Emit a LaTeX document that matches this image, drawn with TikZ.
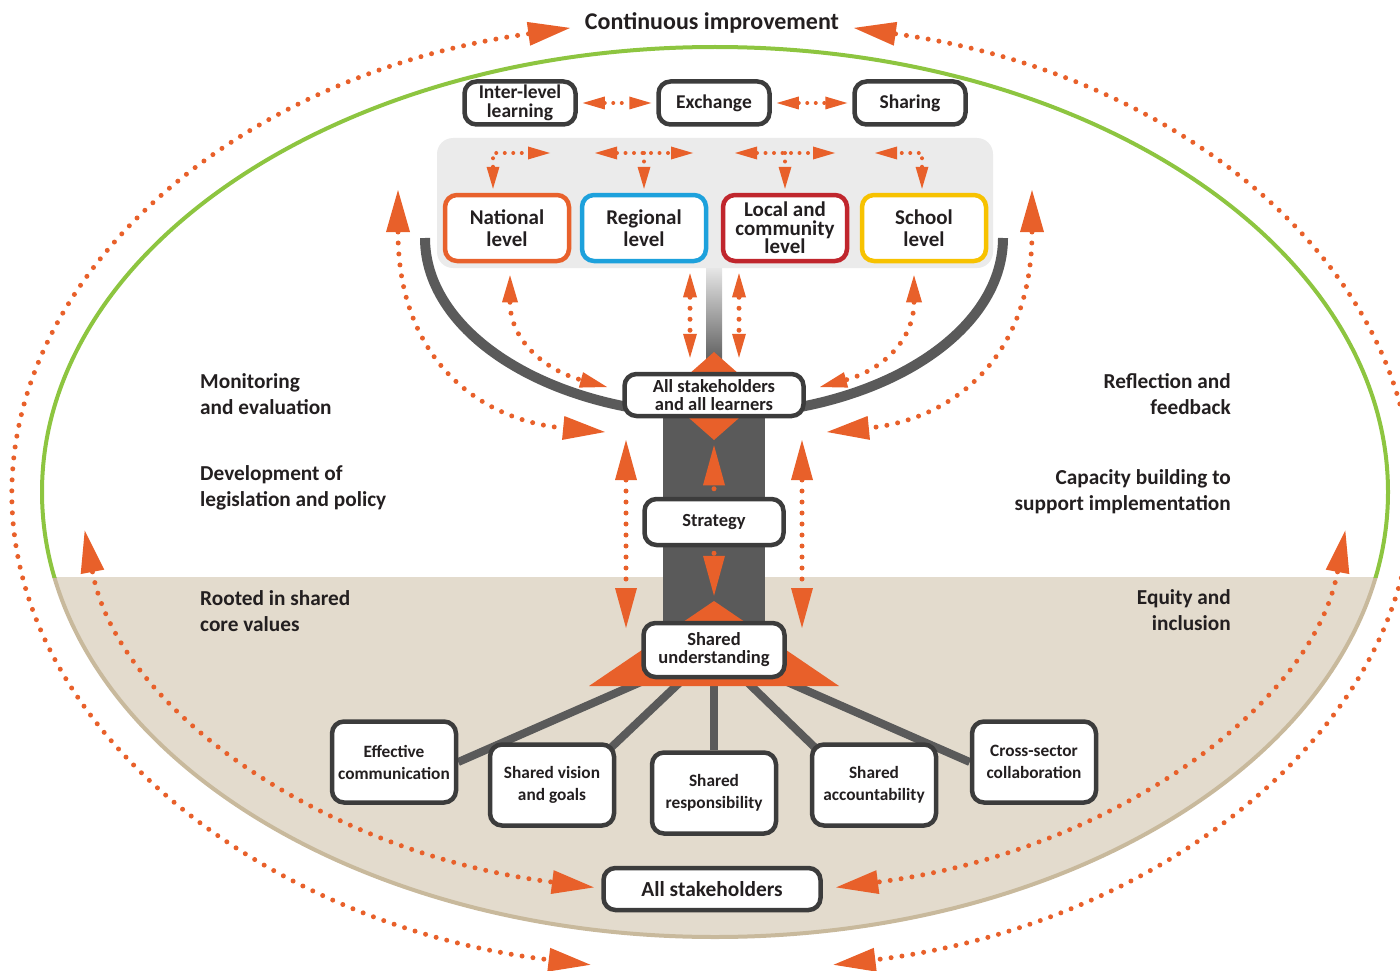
\documentclass[tikz,border=0pt]{standalone}
\usepackage{fontspec}
\setmainfont{Carlito}
\usetikzlibrary{arrows.meta}

\definecolor{orangeA}{HTML}{E8602A}
\definecolor{greenA}{HTML}{8DC540}
\definecolor{beigeA}{HTML}{E3DBCD}
\definecolor{tanA}{HTML}{C8B99C}
\definecolor{boxgray}{HTML}{3C3C3C}
\definecolor{trunkgray}{HTML}{5A5A5A}
\definecolor{stemlight}{HTML}{E6E6E6}
\definecolor{panelgray}{HTML}{EBEBEB}
\definecolor{ink}{HTML}{231F20}
\definecolor{natcol}{HTML}{E8612C}
\definecolor{regcol}{HTML}{1DA1DC}
\definecolor{loccol}{HTML}{C0262D}
\definecolor{schcol}{HTML}{F7C200}

\pgfdeclarelayer{back}
\pgfsetlayers{back,main}

\tikzset{
  Big/.tip={Triangle[length=42pt,width=24pt,line width=0pt]},
  Tall/.tip={Triangle[length=40pt,width=22pt,line width=0pt]},
  Mid/.tip={Triangle[length=27pt,width=16pt,line width=0pt]},
  Slim/.tip={Triangle[length=24pt,width=14pt,line width=0pt]},
  Small/.tip={Triangle[length=22pt,width=13pt,line width=0pt]},
  dots/.style={draw=orangeA,line width=5pt,line cap=round,dash pattern=on 0pt off 11pt},
  fewdots/.style={draw=orangeA,line width=4pt,line cap=round,dash pattern=on 0pt off 8.5pt},
  box/.style={draw=boxgray,line width=4.5pt,rounded corners=12pt,fill=white,align=center,text=ink,inner sep=0pt},
  topbox/.style={box,minimum width=111pt,minimum height=43pt,font=\fontsize{19.5}{19}\selectfont\bfseries},
  levelbox/.style={box,line width=4.5pt,minimum width=124pt,minimum height=66pt,font=\fontsize{21}{22}\selectfont\bfseries},
  midbox/.style={box,font=\fontsize{18.5}{18}\selectfont\bfseries},
  botbox/.style={box,line width=4.5pt,minimum width=124pt,minimum height=81pt,font=\fontsize{17.3}{22}\selectfont\bfseries},
  side/.style={text=ink,inner sep=0pt,font=\fontsize{21.3}{26}\selectfont\bfseries},
  link/.style={draw=trunkgray,line width=8pt}
}

\begin{document}
\begin{tikzpicture}[x=1pt,y=-1pt]
\useasboundingbox (0,0) rectangle (1400,971);

\begin{pgfonlayer}{back}
% outer loop
\draw[dots,Big-Big] ({712+700*cos(-101.7)},{495+477*sin(-101.7)}) arc[start angle=-101.7,end angle=-260,x radius=700,y radius=477];
\draw[dots,Big-Big] ({712+700*cos(-78.3)},{495+477*sin(-78.3)}) arc[start angle=-78.3,end angle=80,x radius=700,y radius=477];

% ellipse, beige ground and green sky line
\begin{scope}
\clip (0,577) rectangle (1400,971);
\fill[beigeA] (715,492) ellipse[x radius=673,y radius=445];
\draw[tanA,line width=4pt] (715,492) ellipse[x radius=673,y radius=445];
\end{scope}
\begin{scope}
\clip (0,0) rectangle (1400,577);
\draw[greenA,line width=4pt] (715,492) ellipse[x radius=673,y radius=445];
\end{scope}

% inner loop
\draw[dots,Big-Big] ({715+635*cos(173)},{480+415*sin(173)}) arc[start angle=173,end angle=101,x radius=635,y radius=415];
\draw[dots,Big-Big] ({715+635*cos(7)},{480+415*sin(7)}) arc[start angle=7,end angle=79,x radius=635,y radius=415];

% levels panel and tree
\fill[panelgray,rounded corners=16pt] (437,138) rectangle (993,268);
\draw[trunkgray,line width=10pt] (425,238) arc[start angle=180,end angle=0,x radius=289,y radius=177];
\shade[top color=stemlight,bottom color=trunkgray] (706,268) rectangle (722,364);
\fill[trunkgray] (663,400) rectangle (765,625);
\end{pgfonlayer}

\fill[orangeA] (714,352) -- (764,396) -- (714,440) -- (664,396) -- cycle;
\fill[orangeA] (714,601) -- (839,686) -- (589,686) -- cycle;

\node[text=ink,font=\fontsize{24}{24}\selectfont\bfseries] (ci) at (712,23) {Continuous improvement};

% top row
\node[topbox] (inter) at (520,103) {Inter-level\\learning};
\node[topbox] (exch) at (714,103) {Exchange};
\node[topbox] (share) at (910,103) {Sharing};

% levels
\node[levelbox,draw=natcol] (nat) at (507,228) {National\\level};
\node[levelbox,draw=regcol] (reg) at (644,228) {Regional\\level};
\node[levelbox,draw=loccol,font=\fontsize{21}{18.5}\selectfont\bfseries] (loc) at (785,228) {Local and\\community\\level};
\node[levelbox,draw=schcol] (sch) at (924,228) {School\\level};

% trunk
\node[midbox,minimum width=179pt,minimum height=42pt] (asl) at (714,395) {All stakeholders\\and all learners};
\node[midbox,minimum width=139pt,minimum height=46pt] (strat) at (714,522) {Strategy};
\node[midbox,minimum width=141pt,minimum height=54pt] (su) at (714,650) {Shared\\understanding};

% roots
\node[botbox] (eff) at (394,762) {Effective\\communication};
\node[botbox] (vis) at (552,785) {Shared vision\\and goals};
\node[botbox] (resp) at (714,793) {Shared\\responsibility};
\node[botbox] (acc) at (874,785) {Shared\\accountability};
\node[botbox] (cross) at (1034,762) {Cross-sector\\collaboration};
\node[box,minimum width=217pt,minimum height=42pt,font=\fontsize{21.4}{21}\selectfont\bfseries] (all) at (712,889) {All stakeholders};

\begin{pgfonlayer}{back}
\draw[link] (su.center) -- (eff.east);
\draw[link] (su.center) -- ([xshift=-8pt,yshift=-8pt]vis.north east);
\draw[link] (su.center) -- (resp.north);
\draw[link] (su.center) -- ([xshift=8pt,yshift=-8pt]acc.north west);
\draw[link] (su.center) -- (cross.west);
\end{pgfonlayer}

% exchange arrows
\draw[fewdots,Small-Small,shorten <=5pt,shorten >=5pt] (inter) -- (exch);
\draw[fewdots,Small-Small,shorten <=5pt,shorten >=5pt] (exch) -- (share);

\coordinate (natr) at (550,153);
\coordinate (regl) at (595,153);
\coordinate (regr) at (693,153);
\coordinate (locl) at (735,153);
\coordinate (locr) at (835,153);
\coordinate (schl) at (875,153);
\draw[fewdots,Small-Small,shorten <=4pt] ([xshift=-14pt]nat.north) |- (natr);
\draw[fewdots,Small-Small] (regl) -- (regr);
\draw[fewdots,-Small,shorten >=4pt] (reg.north |- regl) -- (reg.north);
\draw[fewdots,Small-Small] (locl) -- (locr);
\draw[fewdots,-Small,shorten >=4pt] (loc.north |- locl) -- (loc.north);
\draw[fewdots,Small-Small,shorten <=4pt] ([xshift=-2pt]sch.north) |- (schl);

% levels to learners
\coordinate (asll) at (607,387);
\coordinate (aslr) at (820,387);
\draw[dots,Mid-Mid] ([xshift=3pt,yshift=-12pt]nat.south) .. controls +(0,65) and +(-62,-17) .. (asll);
\draw[dots,Mid-Mid] ([xshift=-10pt,yshift=-12pt]sch.south) .. controls +(0,65) and +(62,-17) .. (aslr);
\draw[dots,Slim-Slim] ([xshift=46pt,yshift=-10pt]reg.south) -- ([xshift=-24pt,yshift=14pt]asl.north);
\draw[dots,Slim-Slim] ([xshift=-46pt,yshift=-10pt]loc.south) -- ([xshift=25pt,yshift=14pt]asl.north);

\coordinate (uleft) at (398,190);
\coordinate (uright) at (1032,190);
\coordinate (asllo) at (605,432);
\coordinate (aslro) at (827,432);
\draw[dots,Big-Big] (uleft) .. controls +(0,170) and +(-125,-12) .. (asllo);
\draw[dots,Big-Big] (uright) .. controls +(0,170) and +(123,-12) .. (aslro);

% strategy arrows
\draw[dots,-Tall,shorten <=8pt] (strat.north) -- ([yshift=-27pt]asl.south);
\draw[dots,-Tall,shorten <=6pt] (strat.south) -- ([yshift=25pt]su.north);
\coordinate (lvt) at (626,440);
\coordinate (lvb) at (626,628);
\coordinate (rvt) at (802,440);
\coordinate (rvb) at (802,628);
\draw[dots,Tall-Tall] (lvt) -- (lvb);
\draw[dots,Tall-Tall] (rvt) -- (rvb);

% side labels
\node[side,anchor=west,align=left] (mon) at (200,394) {Monitoring\\and evaluation};
\node[side,anchor=west,align=left] (dev) at (200,488) {Development of\\legislation and policy};
\node[side,anchor=west,align=left] (root) at (200,611) {Rooted in shared\\core values};
\node[side,anchor=east,align=right] (refl) at (1231,394) {Reflection and\\feedback};
\node[side,anchor=east,align=right] (cap) at (1231,492) {Capacity building to\\support implementation};
\node[side,anchor=east,align=right] (equ) at (1231,610) {Equity and\\inclusion};
\end{tikzpicture}
\end{document}
